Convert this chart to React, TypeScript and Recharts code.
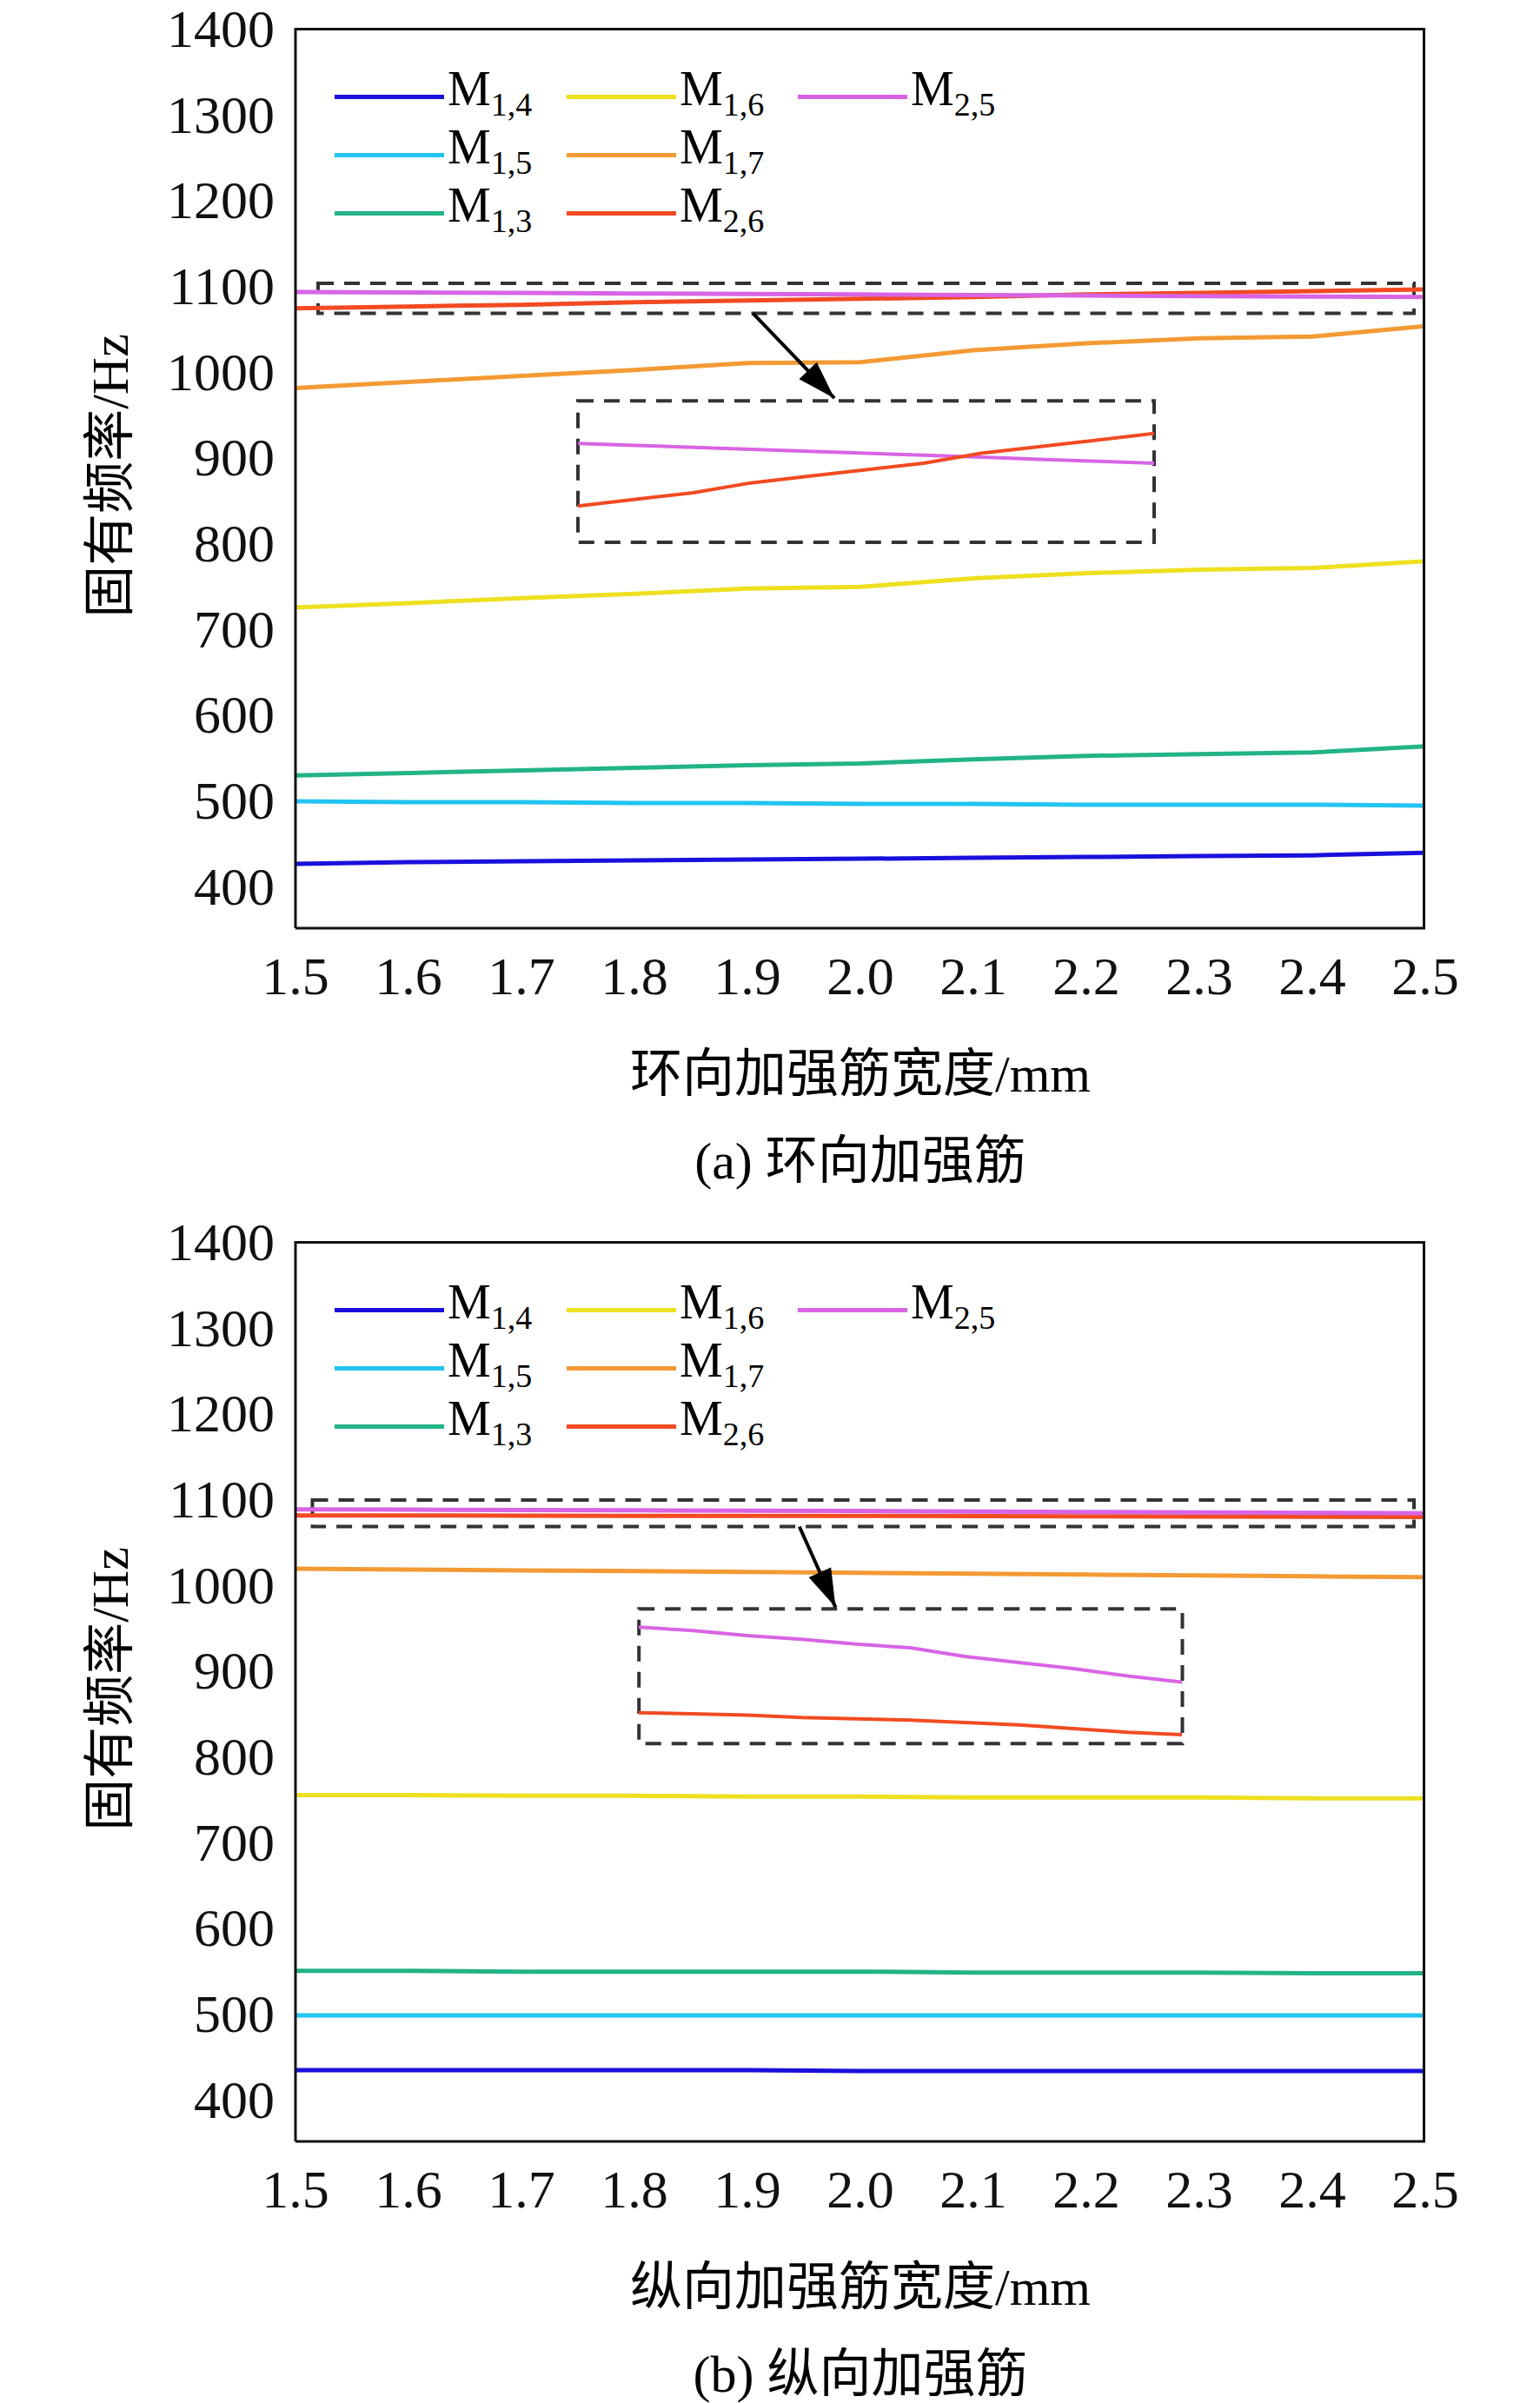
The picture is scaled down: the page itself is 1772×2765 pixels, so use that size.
import { LineChart, Line, XAxis, YAxis, ReferenceArea, ReferenceLine } from "recharts";

const widths = [1.5, 1.6, 1.7, 1.8, 1.9, 2.0, 2.1, 2.2, 2.3, 2.4, 2.5];
const xTicks = widths;
const yTicks = [400, 500, 600, 700, 800, 900, 1000, 1100, 1200, 1300, 1400];

// (a) circumferential stiffener
const aM14 = [425, 427, 428, 429, 430, 431, 432, 433, 434, 435, 438];
const aM15 = [498, 497, 497, 496, 496, 495, 495, 494, 494, 494, 493];
const aM13 = [528, 531, 534, 537, 540, 542, 547, 551, 553, 555, 562];
const aM16 = [724, 729, 735, 740, 746, 748, 758, 764, 768, 770, 778];
const aM17 = [980, 987, 994, 1001, 1009, 1010, 1024, 1032, 1038, 1040, 1052];
const aM26 = [1073, 1075, 1077, 1080, 1082, 1084, 1086, 1089, 1091, 1093, 1095];
const aM25 = [1092, 1091.4, 1090.8, 1090.2, 1089.6, 1089, 1088.4, 1087.8, 1087.2, 1086.6, 1086];

// (b) longitudinal stiffener
const bM14 = [433, 433, 433, 433, 433, 432, 432, 432, 432, 432, 432];
const bM15 = [497, 497, 497, 497, 497, 497, 497, 497, 497, 497, 497];
const bM13 = [549, 549, 548, 548, 548, 548, 547, 547, 547, 546, 546];
const bM16 = [754, 754, 753, 753, 752, 752, 751, 751, 751, 750, 750];
const bM17 = [1018, 1017, 1016, 1015, 1014, 1013, 1012, 1011, 1010, 1009, 1008];
const bM26 = [1080, 1079.9, 1079.8, 1079.6, 1079.5, 1079.4, 1079.2, 1079, 1078.7, 1078.4, 1078.2];
const bM25 = [1087, 1086.7, 1086.3, 1086, 1085.6, 1085.3, 1084.6, 1084.1, 1083.6, 1083, 1082.5];

const series = [
  { key: "m14", sub: "1,4", color: "#1a10dc" },
  { key: "m15", sub: "1,5", color: "#22c4f0" },
  { key: "m13", sub: "1,3", color: "#22b486" },
  { key: "m16", sub: "1,6", color: "#eee020" },
  { key: "m17", sub: "1,7", color: "#f39a34" },
  { key: "m26", sub: "2,6", color: "#f24a22" },
  { key: "m25", sub: "2,5", color: "#d864e4" },
];
const legendOrder = [["m14", "m16", "m25"], ["m15", "m17"], ["m13", "m26"]];

const build = (arrs: number[][]) =>
  widths.map((w, i) => ({
    w,
    m14: arrs[0][i], m15: arrs[1][i], m13: arrs[2][i], m16: arrs[3][i],
    m17: arrs[4][i], m26: arrs[5][i], m25: arrs[6][i],
  }));
const dataA = build([aM14, aM15, aM13, aM16, aM17, aM26, aM25]);
const dataB = build([bM14, bM15, bM13, bM16, bM17, bM26, bM25]);

const FONT = "'Liberation Serif', 'Times New Roman', serif";
const CJK = "'Liberation Serif', 'Noto Sans CJK SC', serif";
const W = 1772;
const H = 1200;
const LEFT = 340;
const RIGHT = 132;
const TOP = 32;
const XH = 132;

function Legend() {
  const colX = [45, 312, 578];
  return (
    <>
      {legendOrder.map((row, r) =>
        row.map((k, c) => {
          const s = series.find((x) => x.key === k)!;
          return (
            <div key={k} style={{ position: "absolute", left: LEFT + colX[c], top: 72 + r * 67, display: "flex", alignItems: "center", fontFamily: FONT, fontSize: 56, lineHeight: "60px" }}>
              <div style={{ width: 126, height: 5, background: s.color, marginRight: 4 }} />
              <span>M<sub style={{ fontSize: 38 }}>{s.sub}</sub></span>
            </div>
          );
        })
      )}
    </>
  );
}

function Panel({ data, top, zoomBox, inset, arrow, insetData, insetDomain, xLabel, caption }: any) {
  const tick = { fontFamily: FONT, fontSize: 62, fill: "#111" };
  const pw = W - LEFT - RIGHT;
  const ph = H - TOP - XH;
  const px = (x: number) => LEFT + ((x - 1.5) / 1.0) * pw;
  const py = (y: number) => TOP + ((1400 - y) / 1050) * ph;
  return (
    <div style={{ position: "absolute", left: 0, top, width: W, height: H + 160 }}>
      <LineChart width={W} height={H} data={data} margin={{ top: TOP, right: RIGHT, left: 0, bottom: 0 }}>
        <XAxis dataKey="w" type="number" domain={[1.5, 2.5]} ticks={xTicks} tickFormatter={(v) => v.toFixed(1)} tick={tick} tickLine={false} axisLine={{ stroke: "#111", strokeWidth: 3 }} tickMargin={26} interval={0} height={XH} />
        <YAxis type="number" domain={[350, 1400]} ticks={yTicks} tick={tick} tickLine={false} axisLine={{ stroke: "#111", strokeWidth: 3 }} tickMargin={18} width={LEFT} interval={0} />
        {series.map((s) => (
          <Line key={s.key} dataKey={s.key} stroke={s.color} strokeWidth={5} dot={false} isAnimationActive={false} />
        ))}
        <ReferenceArea x1={zoomBox[0]} x2={zoomBox[1]} y1={zoomBox[2]} y2={zoomBox[3]} fill="none" stroke="#333" strokeWidth={4} strokeDasharray="18 12" ifOverflow="visible" />
        <ReferenceArea x1={inset[0]} x2={inset[1]} y1={inset[2]} y2={inset[3]} fill="none" stroke="#333" strokeWidth={4} strokeDasharray="18 12" />
        <ReferenceLine segment={[{ x: arrow[0], y: arrow[1] }, { x: arrow[2], y: arrow[3] }]} stroke="#000" strokeWidth={4} />
      </LineChart>
      <svg style={{ position: "absolute", left: 0, top: 0, pointerEvents: "none" }} width={W} height={H}>
        {(() => {
          const x1 = px(arrow[0]), y1 = py(arrow[1]), x2 = px(arrow[2]), y2 = py(arrow[3]);
          const a = Math.atan2(y2 - y1, x2 - x1);
          const L = 44, hw = 14;
          const bx = x2 - L * Math.cos(a), by = y2 - L * Math.sin(a);
          return <polygon points={`${x2},${y2} ${bx + hw * Math.sin(a)},${by - hw * Math.cos(a)} ${bx - hw * Math.sin(a)},${by + hw * Math.cos(a)}`} fill="#000" />;
        })()}
      </svg>
      <div style={{ position: "absolute", left: LEFT, top: TOP, width: pw, height: ph, borderTop: "3px solid #111", borderRight: "3px solid #111", boxSizing: "border-box" }} />
      <div style={{ position: "absolute", left: px(inset[0]), top: py(inset[3]) }}>
        <LineChart width={px(inset[1]) - px(inset[0])} height={py(inset[2]) - py(inset[3])} data={insetData} margin={{ top: 0, right: 0, bottom: 0, left: 0 }}>
          <XAxis dataKey="w" type="number" domain={[1.5, 2.5]} hide />
          <YAxis type="number" domain={insetDomain} hide />
          <Line dataKey="m25" stroke="#d864e4" strokeWidth={4} dot={false} isAnimationActive={false} />
          <Line dataKey="m26" stroke="#f24a22" strokeWidth={4} dot={false} isAnimationActive={false} />
        </LineChart>
      </div>
      <Legend />
      <div style={{ position: "absolute", left: 40, top: 547 - 300, width: 160, height: 600, display: "flex", alignItems: "center", justifyContent: "center" }}>
        <div style={{ transform: "rotate(-90deg)", whiteSpace: "nowrap", fontFamily: CJK, fontSize: 60 }}>固有频率/Hz</div>
      </div>
      <div style={{ position: "absolute", left: LEFT, width: pw, top: 1186, textAlign: "center", fontFamily: CJK, fontSize: 60 }}>{xLabel}</div>
      <div style={{ position: "absolute", left: LEFT, width: pw, top: 1286, textAlign: "center", fontFamily: CJK, fontSize: 60 }}>{caption}</div>
    </div>
  );
}

export default function App() {
  return (
    <div style={{ position: "absolute", left: 0, top: 0, width: W, height: 2765, background: "#fff" }}>
      <Panel
        data={dataA}
        top={0}
        zoomBox={[1.52, 2.49, 1067, 1102]}
        inset={[1.75, 2.26, 800, 965]}
        arrow={[1.905, 1067, 1.977, 968]}
        insetData={dataA}
        insetDomain={[1062, 1105]}
        xLabel="环向加强筋宽度/mm"
        caption="(a) 环向加强筋"
      />
      <Panel
        data={dataB}
        top={1396}
        zoomBox={[1.515, 2.49, 1067, 1098]}
        inset={[1.804, 2.285, 814, 971]}
        arrow={[1.946, 1067, 1.978, 973]}
        insetData={dataB}
        insetDomain={[1077.5, 1088.5]}
        xLabel="纵向加强筋宽度/mm"
        caption="(b) 纵向加强筋"
      />
    </div>
  );
}
